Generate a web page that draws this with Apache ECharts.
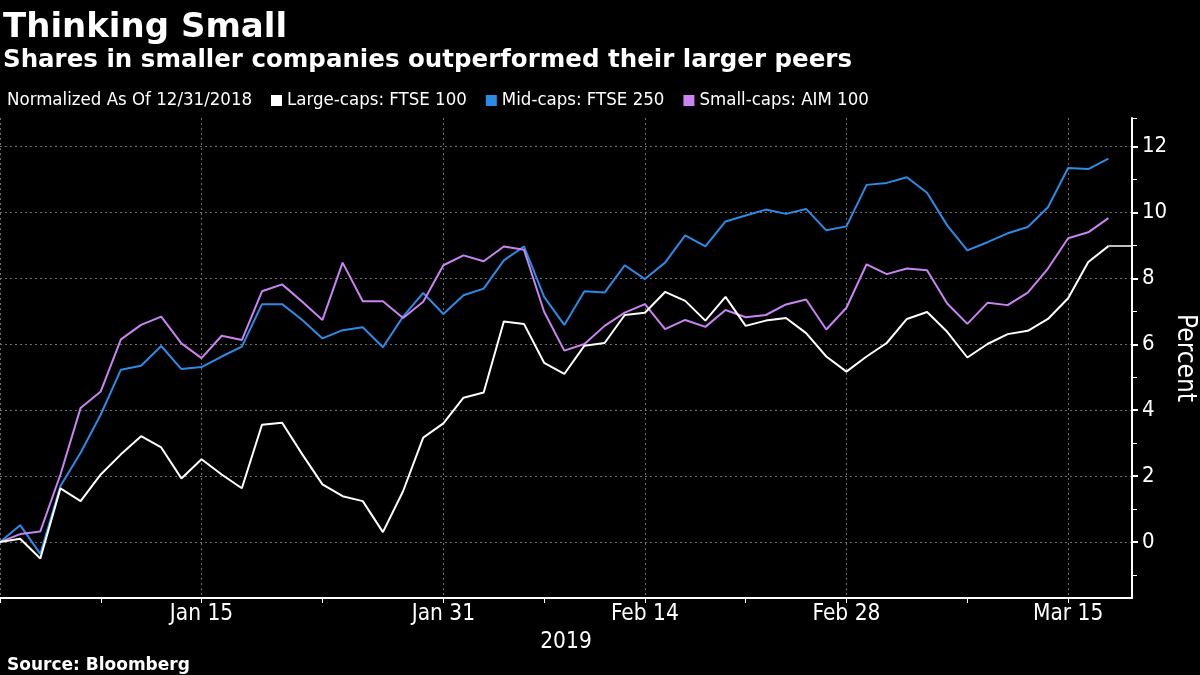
<!DOCTYPE html>
<html>
<head>
<meta charset="utf-8">
<script src="https://cdn.jsdelivr.net/npm/echarts@6/dist/echarts.min.js"></script>
<style>
html,body{margin:0;padding:0;background:#000;}
#c{width:1200px;height:675px;}
</style>
</head>
<body>
<div id="c"></div>
<script>
// Business-day index 0 = 12/31/2018 ... 55 = 3/19/2019
const largeCaps = [0, 0.1, -0.5, 1.63, 1.24, 2.05, 2.66, 3.21, 2.87, 1.93, 2.51, 2.05, 1.63, 3.56, 3.62, 2.66, 1.75, 1.39, 1.24, 0.3, 1.54, 3.17, 3.6, 4.38, 4.54, 6.69, 6.62, 5.44, 5.1, 5.96, 6.04, 6.89, 6.96, 7.59, 7.32, 6.72, 7.44, 6.56, 6.72, 6.8, 6.34, 5.63, 5.17, 5.63, 6.04, 6.77, 6.98, 6.38, 5.6, 6.01, 6.31, 6.41, 6.77, 7.4, 8.5, 8.98];
const midCaps = [0, 0.51, -0.36, 1.7, 2.71, 3.87, 5.23, 5.35, 5.95, 5.25, 5.31, 5.63, 5.93, 7.22, 7.22, 6.74, 6.18, 6.43, 6.52, 5.91, 6.84, 7.56, 6.92, 7.49, 7.69, 8.55, 8.97, 7.44, 6.59, 7.61, 7.57, 8.4, 7.98, 8.48, 9.31, 8.97, 9.73, 9.91, 10.09, 9.96, 10.11, 9.46, 9.58, 10.84, 10.9, 11.07, 10.6, 9.61, 8.85, 9.1, 9.37, 9.56, 10.16, 11.35, 11.32, 11.64];
const smallCaps = [0, 0.24, 0.32, 2.05, 4.07, 4.57, 6.15, 6.59, 6.84, 6.03, 5.58, 6.26, 6.13, 7.61, 7.82, 7.29, 6.74, 8.48, 7.31, 7.31, 6.8, 7.29, 8.4, 8.7, 8.52, 8.97, 8.87, 6.99, 5.81, 6.01, 6.56, 6.96, 7.22, 6.46, 6.74, 6.53, 7.04, 6.82, 6.89, 7.21, 7.36, 6.45, 7.11, 8.43, 8.13, 8.3, 8.25, 7.24, 6.62, 7.26, 7.19, 7.57, 8.3, 9.22, 9.4, 9.83];
const xTickIdx = [10, 22, 32, 42, 53];
const xTickLabels = ['Jan 15', 'Jan 31', 'Feb 14', 'Feb 28', 'Mar 15'];
const xMinorIdx = [5, 16, 27, 37, 48];
const yTickValues = [0, 2, 4, 6, 8, 10, 12];
const yMinorValues = [-1, 1, 3, 5, 7, 9, 11];
const seriesNames = ['Large-caps: FTSE 100', 'Mid-caps: FTSE 250', 'Small-caps: AIM 100'];
const seriesColors = ['#ffffff', '#2b8be6', '#c983f2'];

const X_MIN = 0, X_MAX = 56.17, Y_MIN = -1.7, Y_MAX = 12.87;
const FONT = "'DejaVu Sans Condensed', 'Liberation Sans Narrow', 'DejaVu Sans', sans-serif";
const BOLD = "'DejaVu Sans', sans-serif";

const toPairs = arr => arr.map((v, i) => [i, v]);
const labelFor = v => { const k = xTickIdx.indexOf(Math.round(v)); return k >= 0 ? xTickLabels[k] : ''; };

const chart = echarts.init(document.getElementById('c'));
const gridBox = { left: 0, right: 68, top: 118, bottom: 77, containLabel: false, outerBoundsMode: 'none' };
const gridLine = { show: true, lineStyle: { color: '#6e6e6e', width: 1, type: [2, 3] } };
chart.setOption({
  backgroundColor: '#000',
  animation: false,
  title: [
    { text: 'Thinking Small', left: 3, top: 11, padding: 0, textStyle: { color: '#fff', fontSize: 34, fontWeight: 'bold', fontFamily: BOLD } },
    { text: 'Shares in smaller companies outperformed their larger peers', left: 3, top: 48, padding: 0, textStyle: { color: '#fff', fontSize: 24.5, fontWeight: 'bold', fontFamily: BOLD } },
    { text: 'Source: Bloomberg', left: 7, top: 657, padding: 0, textStyle: { color: '#fff', fontSize: 17, fontWeight: 'bold', fontFamily: BOLD } }
  ],
  graphic: [
    { type: 'text', left: 7, top: 91, style: { text: 'Normalized As Of 12/31/2018', fill: '#fff', font: "18.5px " + FONT } }
  ],
  legend: {
    left: 271, top: 91, padding: 0, icon: 'rect', itemWidth: 11, itemHeight: 11, itemGap: 19,
    textStyle: { color: '#fff', fontSize: 18.5, fontFamily: FONT },
    data: seriesNames
  },
  grid: [Object.assign({}, gridBox), Object.assign({}, gridBox)],
  xAxis: [
    {
      type: 'value', gridIndex: 0, min: X_MIN, max: X_MAX, position: 'bottom',
      name: '2019', nameLocation: 'middle', nameGap: 30,
      nameTextStyle: { color: '#fff', fontSize: 22.5, fontFamily: FONT },
      axisLine: { show: true, onZero: false, lineStyle: { color: '#fff', width: 2 } },
      axisTick: { show: true, length: 5, lineStyle: { color: '#fff', width: 1 }, customValues: [0].concat(xTickIdx) },
      axisLabel: { show: true, color: '#fff', fontSize: 22.5, fontFamily: FONT, margin: 5, customValues: xTickIdx, formatter: labelFor },
      splitLine: gridLine
    },
    {
      type: 'value', gridIndex: 1, min: X_MIN, max: X_MAX, position: 'bottom',
      axisLine: { show: false, onZero: false },
      axisTick: { show: true, length: 5, lineStyle: { color: '#fff', width: 1 }, customValues: xMinorIdx },
      axisLabel: { show: false },
      splitLine: { show: false }
    }
  ],
  yAxis: [
    {
      type: 'value', gridIndex: 0, min: Y_MIN, max: Y_MAX, position: 'right',
      name: 'Percent', nameLocation: 'middle', nameRotate: -90, nameGap: 40, nameMoveOverlap: false,
      nameTextStyle: { color: '#fff', fontSize: 26, fontFamily: FONT },
      axisLine: { show: true, onZero: false, lineStyle: { color: '#fff', width: 2 } },
      axisTick: { show: true, length: 6, lineStyle: { color: '#fff', width: 2 }, customValues: yTickValues },
      axisLabel: { show: true, color: '#fff', fontSize: 22, fontFamily: FONT, margin: 10, customValues: yTickValues },
      splitLine: gridLine
    },
    {
      type: 'value', gridIndex: 1, min: Y_MIN, max: Y_MAX, position: 'right',
      axisLine: { show: false, onZero: false },
      axisTick: { show: true, length: 5, lineStyle: { color: '#fff', width: 1 }, customValues: yMinorValues.concat([Y_MAX]) },
      axisLabel: { show: false },
      splitLine: { show: false }
    }
  ],
  series: [
    {
      name: seriesNames[0], type: 'line', xAxisIndex: 0, yAxisIndex: 0, data: toPairs(largeCaps), showSymbol: false, symbol: 'none',
      lineStyle: { color: seriesColors[0], width: 2 }, itemStyle: { color: seriesColors[0] }, z: 3,
      markLine: {
        silent: true, symbol: 'none', label: { show: false },
        lineStyle: { color: seriesColors[0], width: 1.5, type: 'solid' },
        data: [[{ coord: [largeCaps.length - 1, largeCaps[largeCaps.length - 1]] }, { coord: [X_MAX, largeCaps[largeCaps.length - 1]] }]]
      }
    },
    { name: seriesNames[1], type: 'line', xAxisIndex: 0, yAxisIndex: 0, data: toPairs(midCaps), showSymbol: false, symbol: 'none',
      lineStyle: { color: seriesColors[1], width: 2 }, itemStyle: { color: seriesColors[1] }, z: 2 },
    { name: seriesNames[2], type: 'line', xAxisIndex: 0, yAxisIndex: 0, data: toPairs(smallCaps), showSymbol: false, symbol: 'none',
      lineStyle: { color: seriesColors[2], width: 2 }, itemStyle: { color: seriesColors[2] }, z: 2 }
  ]
});
</script>
</body>
</html>
